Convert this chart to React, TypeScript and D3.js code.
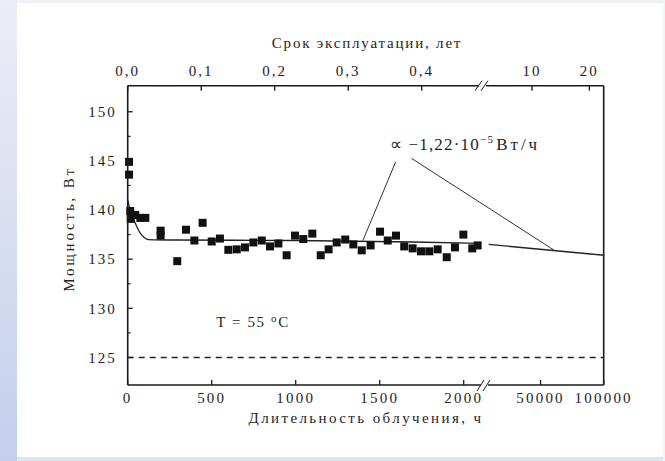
import React from "react";
import * as d3 from "d3";

const W = 665;
const H = 461;

// Measured data: hours, power (W)
const pointHours = [8, 8, 15, 18, 45, 75, 105, 196, 196, 295, 347, 397, 446, 500, 549, 599, 649, 698, 748, 798, 847, 897, 946, 996, 1045, 1099, 1149, 1196, 1244, 1295, 1343, 1393, 1446, 1502, 1548, 1597, 1646, 1696, 1746, 1795, 1845, 1899, 1948, 1998, 2051, 2083];
const pointPower = [144.9, 143.6, 139.9, 139.1, 139.5, 139.2, 139.2, 137.9, 137.4, 134.8, 138.0, 136.9, 138.7, 136.8, 137.1, 135.95, 136.0, 136.2, 136.7, 136.9, 136.3, 136.6, 135.4, 137.4, 137.05, 137.6, 135.4, 136.0, 136.7, 137.0, 136.5, 135.9, 136.4, 137.8, 136.9, 137.4, 136.3, 136.1, 135.8, 135.8, 136.0, 135.2, 136.2, 137.5, 136.1, 136.4];

// Fit curve (left section)
const fitHours = [0, 15, 30, 44, 60, 73, 95, 123, 300, 1000, 1700, 2100];
const fitPower = [141.0, 140.0, 139.3, 138.7, 138.1, 137.7, 137.25, 137.0, 136.95, 136.9, 136.75, 136.6];

// Extrapolated fit (right section)
const extHours = [9000, 100000];
const extPower = [136.5, 135.4];

const limitPower = 125;

const bottomTicksLeft = [0, 500, 1000, 1500, 2000];
const bottomTicksRight = [50000, 100000];
const topTicksLeft = [0, 0.1, 0.2, 0.3, 0.4];
const topTicksRight = [10, 20];
const yMajor = [125, 130, 135, 140, 145, 150];
const yMinor = [127.5, 132.5, 137.5, 142.5, 147.5];

const FONT = '"Liberation Serif", "Times New Roman", serif';
const TXT = "#1e1e1e";

export default function App() {
  const left = 127.7;
  const right = 603.7;
  const top = 85.7;
  const bottom = 385;

  const xL = d3.scaleLinear().domain([0, 2100]).range([left, 480.5]);
  const xR = d3.scaleLinear().domain([6000, 100000]).range([485, right]);
  const tL = d3.scaleLinear().domain([0, 0.48]).range([left, 480.5]);
  const tR = d3.scaleLinear().domain([1.8, 22.5]).range([485, right]);
  const y = d3.scaleLinear().domain([122.2, 152.65]).range([bottom, top]);

  const fitLine = d3
    .line<number>()
    .x((_, i) => xL(fitHours[i]))
    .y((d) => y(d))
    .curve(d3.curveMonotoneX)(fitPower) as string;

  const extLine = d3
    .line<number>()
    .x((_, i) => xR(extHours[i]))
    .y((d) => y(d))(extPower) as string;

  const sq = 8;
  const breakBottomX = 485;
  const breakTopX = 483;

  // annotation anchors in data units
  const annText = { h: 1560, p: 146.1 };
  const ann1 = { from: { h: 1595, p: 144.9 }, to: { h: 1400, p: 136.9 } };
  const ann2From = { h: 1690, p: 145.25 };
  const ann2ToH = 61300;
  const ann2ToP =
    extPower[0] + ((extPower[1] - extPower[0]) * (ann2ToH - extHours[0])) / (extHours[1] - extHours[0]);

  const fmtTop = (v: number) => (v < 1 ? d3.format(".1f")(v).replace(".", ",") : String(v));

  const txtStyle = { fontFamily: FONT };

  return (
    <svg
      width={W}
      height={H}
      style={{ position: "absolute", left: 0, top: 0, background: "#ffffff", fontFamily: FONT }}
    >
      <defs>
        <linearGradient id="strip" x1="0" y1="0" x2="0" y2="1">
          <stop offset="0" stopColor="#eceef6" />
          <stop offset="1" stopColor="#c3cfec" />
        </linearGradient>
      </defs>
      <rect x={0} y={0} width={W} height={H} fill="#ffffff" />
      <rect x={0} y={0} width={W} height={3} fill="#eef0f6" />
      <rect x={0} y={H - 4} width={W} height={4} fill="#dde5f4" />
      <rect x={0} y={0} width={17} height={H} fill="url(#strip)" />
      <rect x={W - 2} y={0} width={2} height={H} fill="#f3f4f8" />

      {/* dashed limit line */}
      <line
        x1={left}
        x2={right}
        y1={y(limitPower)}
        y2={y(limitPower)}
        stroke="#222"
        strokeWidth={1.4}
        strokeDasharray="6,5"
      />

      {/* fit lines */}
      <path d={fitLine} fill="none" stroke="#222" strokeWidth={1.3} />
      <path d={extLine} fill="none" stroke="#222" strokeWidth={1.3} />

      {/* points */}
      {pointHours.map((h, i) => (
        <rect
          key={i}
          x={xL(h) - sq / 2}
          y={y(pointPower[i]) - sq / 2}
          width={sq}
          height={sq}
          fill="#111"
        />
      ))}

      {/* annotation */}
      <line
        x1={xL(ann1.from.h)}
        y1={y(ann1.from.p)}
        x2={xL(ann1.to.h)}
        y2={y(ann1.to.p)}
        stroke="#333"
        strokeWidth={1}
      />
      <line
        x1={xL(ann2From.h)}
        y1={y(ann2From.p)}
        x2={xR(ann2ToH)}
        y2={y(ann2ToP)}
        stroke="#333"
        strokeWidth={1}
      />
      <text x={xL(annText.h)} y={y(annText.p)} fontSize={17} fill={TXT} letterSpacing={1.2} style={txtStyle}>
        <tspan>∝ −1,22·10</tspan>
        <tspan dy={-7} fontSize={11}>−5</tspan>
        <tspan dy={7} dx={2} letterSpacing={3}>Вт/ч</tspan>
      </text>

      <text x={xL(527)} y={y(128.1)} fontSize={15} fill={TXT} letterSpacing={1.6} style={txtStyle}>
        <tspan>T = 55 </tspan>
        <tspan dy={-5} fontSize={11}>o</tspan>
        <tspan dy={5}>C</tspan>
      </text>

      {/* frame */}
      <g fill="none" stroke="#1a1a1a" strokeWidth={1.6}>
        <line x1={left} x2={left} y1={top} y2={bottom} />
        <line x1={right} x2={right} y1={top} y2={bottom} />
        <line x1={left} x2={right} y1={top} y2={top} />
        <line x1={left} x2={right} y1={bottom} y2={bottom} />
      </g>

      {/* y ticks */}
      {yMajor.map((v) => (
        <g key={v}>
          <line x1={left} x2={left + 5} y1={y(v)} y2={y(v)} stroke="#1a1a1a" strokeWidth={1.3} />
          <text
            x={left - 11}
            y={y(v)}
            dy="0.35em"
            textAnchor="end"
            fontSize={15}
            letterSpacing={2}
            fill={TXT}
            style={txtStyle}
          >
            {v}
          </text>
        </g>
      ))}
      {yMinor.map((v) => (
        <line key={v} x1={left} x2={left + 3} y1={y(v)} y2={y(v)} stroke="#1a1a1a" strokeWidth={1.1} />
      ))}

      {/* bottom ticks */}
      {bottomTicksLeft.map((v) => (
        <g key={"bl" + v}>
          <line x1={xL(v)} x2={xL(v)} y1={bottom} y2={bottom - 5} stroke="#1a1a1a" strokeWidth={1.3} />
          <text x={xL(v)} y={bottom + 18} textAnchor="middle" fontSize={15} letterSpacing={2.2} fill={TXT} style={txtStyle}>
            {v}
          </text>
        </g>
      ))}
      {bottomTicksRight.map((v) => (
        <g key={"br" + v}>
          <line x1={xR(v)} x2={xR(v)} y1={bottom} y2={bottom - 5} stroke="#1a1a1a" strokeWidth={1.3} />
          <text x={xR(v)} y={bottom + 18} textAnchor="middle" fontSize={15} letterSpacing={2.2} fill={TXT} style={txtStyle}>
            {v}
          </text>
        </g>
      ))}

      {/* top ticks */}
      {topTicksLeft.map((v) => (
        <g key={"tl" + v}>
          <line x1={tL(v)} x2={tL(v)} y1={top} y2={top + 5} stroke="#1a1a1a" strokeWidth={1.3} />
          <text x={tL(v)} y={top - 10} textAnchor="middle" fontSize={15} letterSpacing={2} fill={TXT} style={txtStyle}>
            {fmtTop(v)}
          </text>
        </g>
      ))}
      {topTicksRight.map((v) => (
        <g key={"tr" + v}>
          <line x1={tR(v)} x2={tR(v)} y1={top} y2={top + 5} stroke="#1a1a1a" strokeWidth={1.3} />
          <text x={tR(v)} y={top - 10} textAnchor="middle" fontSize={15} letterSpacing={2} fill={TXT} style={txtStyle}>
            {fmtTop(v)}
          </text>
        </g>
      ))}

      {/* axis breaks */}
      <rect x={breakBottomX - 4} y={bottom - 2} width={7} height={4} fill="#fff" />
      <line x1={breakBottomX - 8} y1={bottom + 6} x2={breakBottomX - 1} y2={bottom - 5} stroke="#1a1a1a" strokeWidth={1} />
      <line x1={breakBottomX - 2} y1={bottom + 6} x2={breakBottomX + 5} y2={bottom - 5} stroke="#1a1a1a" strokeWidth={1} />
      <rect x={breakTopX - 4} y={top - 2} width={7} height={4} fill="#fff" />
      <line x1={breakTopX - 8} y1={top + 5} x2={breakTopX - 1} y2={top - 5} stroke="#1a1a1a" strokeWidth={1} />
      <line x1={breakTopX - 2} y1={top + 5} x2={breakTopX + 5} y2={top - 5} stroke="#1a1a1a" strokeWidth={1} />

      {/* titles */}
      <text x={367} y={48} textAnchor="middle" fontSize={15} letterSpacing={1.8} fill={TXT} style={txtStyle}>
        Срок эксплуатации, лет
      </text>
      <text x={366} y={423} textAnchor="middle" fontSize={15} letterSpacing={2.4} fill={TXT} style={txtStyle}>
        Длительность облучения, ч
      </text>
      <text
        transform={`translate(${74},${229}) rotate(-90)`}
        textAnchor="middle"
        fontSize={15}
        letterSpacing={2.8}
        fill={TXT}
        style={txtStyle}
      >
        Мощность, Вт
      </text>
    </svg>
  );
}
